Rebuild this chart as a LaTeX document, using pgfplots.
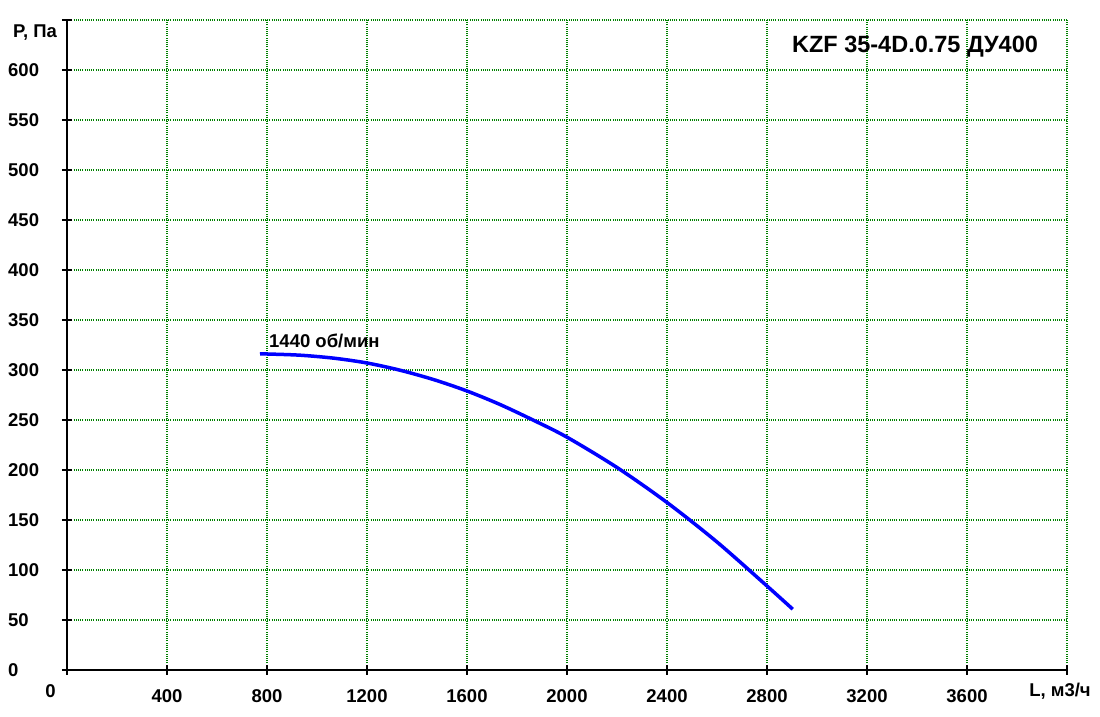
\documentclass[border=0pt]{standalone}
\usepackage{pgfplots}
\pgfplotsset{compat=1.18}
\usepackage{fontspec}
\setmainfont{Liberation Sans}
\definecolor{gridgreen}{RGB}{0,128,0}
\definecolor{curveblue}{RGB}{0,0,255}
\newcommand{\tickfont}{\fontsize{18.5}{18.5}\selectfont\bfseries}
\begin{document}
\begin{tikzpicture}
\path[use as bounding box] (-67pt,-47pt) rectangle (1033pt,670pt);
\begin{axis}[
  at={(0,0)}, anchor=south west,
  scale only axis, width=1000pt, height=650pt,
  xmin=0, xmax=4000, ymin=0, ymax=650,
  axis lines=left,
  axis line style={-, line width=2.6pt, black},
  xtick={0,400,...,4000},
  xticklabels={,400,800,1200,1600,2000,2400,2800,3200,3600,},
  ytick={0,50,...,650},
  yticklabels={0,50,100,150,200,250,300,350,400,450,500,550,600,},
  tick align=center, major tick length=10pt,
  tick style={line width=2pt, black},
  grid=major,
  major grid style={gridgreen, line width=1.1pt, dash pattern=on 1pt off 1.2pt},
  yticklabel style={anchor=west, inner sep=0pt, xshift=-54pt, font=\tickfont},
  xticklabel style={anchor=center, inner sep=0pt, yshift=-21pt, font=\tickfont},
  clip=false,
]
\addplot[curveblue, line width=3.5pt, smooth, tension=0.5] coordinates {
  (772,316) (800,316) (932,314.8) (1068,311.8) (1200,307) (1332,299.8)
  (1468,290.3) (1600,279) (1732,265.5) (1868,249.5) (2000,232.8)
  (2200,202.5) (2400,167.5) (2600,128) (2800,84) (2903,60.8)
};
\node[font=\tickfont, inner sep=0pt, anchor=center, xshift=-16.5pt, yshift=-21pt] at (axis cs:0,0) {0};
\node[font=\tickfont, inner sep=0pt, anchor=center, xshift=-7pt, yshift=-21pt] at (axis cs:4000,0) {L, м3/ч};
\node[font=\tickfont, inner sep=0pt, anchor=base west, xshift=-54pt] at (axis cs:0,632) {P, Па};
\node[font=\tickfont, inner sep=0pt, anchor=base west] at (axis cs:808,322) {1440 об/мин};
\node[font=\fontsize{23.5}{24}\selectfont\bfseries, inner sep=0pt, anchor=base] at (axis cs:3392,617) {KZF 35-4D.0.75 ДУ400};
\end{axis}
\end{tikzpicture}
\end{document}
